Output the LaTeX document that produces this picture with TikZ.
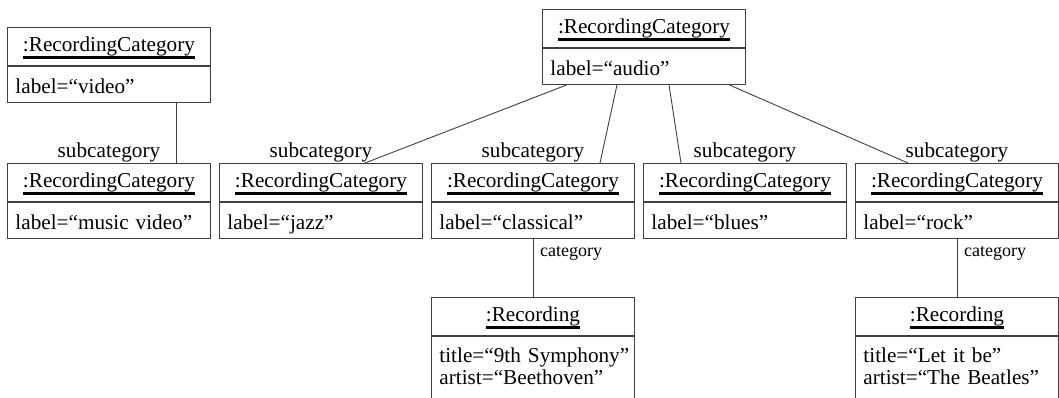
\documentclass[tikz,border=0pt]{standalone}
\usepackage{fontspec}
\setmainfont{Liberation Serif}
\usetikzlibrary{positioning}
\newlength{\objnamewd}
\newcommand{\objname}[1]{\settowidth{\objnamewd}{#1}\rlap{\rule[-8pt]{\objnamewd}{3pt}}#1}

\begin{document}
\begin{tikzpicture}[
    x=1pt, y=-1pt,
    objhead/.style={rectangle, draw=black!75, line width=0.9pt, minimum width=203pt,
                    inner sep=0pt, text height=24pt, text depth=14pt,
                    font=\fontsize{21.2}{23.5}\selectfont},
    objattr/.style={rectangle, draw=black!75, line width=0.9pt, minimum width=203pt,
                    inner xsep=8pt, inner ysep=0pt, text width=187pt, align=left,
                    text height=27pt, text depth=9pt, font=\fontsize{21.2}{23.5}\selectfont},
    recattr/.style={objattr, text height=26pt, text depth=50pt, font=\fontsize{21.2}{22}\selectfont},
    link/.style={draw=black!75, line width=0.9pt},
    role/.style={inner sep=0pt, font=\fontsize{21.2}{23.5}\selectfont},
    endrole/.style={inner sep=0pt, font=\fontsize{18}{20}\selectfont}
]
\useasboundingbox (0,0) rectangle (1059,397);
\clip (0,0) rectangle (1059,397);

% top level categories
\node[objhead, anchor=north west] (videohead) at (7,27) {\objname{:RecordingCategory}};
\node[objattr, below=0pt of videohead] (videoattr) {label=“video”};

\node[objhead, anchor=north west] (audiohead) at (542,9) {\objname{:RecordingCategory}};
\node[objattr, below=0pt of audiohead] (audioattr) {label=“audio”};

% subcategories
\node[objhead, anchor=north west] (mvhead) at (7,163) {\objname{:RecordingCategory}};
\node[objattr, below=0pt of mvhead] (mvattr) {label=“music video”};

\node[objhead, anchor=north west] (jazzhead) at (219,163) {\objname{:RecordingCategory}};
\node[objattr, below=0pt of jazzhead] (jazzattr) {label=“jazz”};

\node[objhead, anchor=north west] (classhead) at (431,163) {\objname{:RecordingCategory}};
\node[objattr, below=0pt of classhead] (classattr) {label=“classical”};

\node[objhead, anchor=north west] (blueshead) at (643,163) {\objname{:RecordingCategory}};
\node[objattr, below=0pt of blueshead] (bluesattr) {label=“blues”};

\node[objhead, anchor=north west] (rockhead) at (855,163) {\objname{:RecordingCategory}};
\node[objattr, below=0pt of rockhead] (rockattr) {label=“rock”};

% recordings
\node[objhead, anchor=north west] (beethead) at (431,297) {\objname{:Recording}};
\node[recattr, below=0pt of beethead] (beetattr)
    {\mbox{title=“9th Symphony”}\\\mbox{artist=“Beethoven”}};

\node[objhead, anchor=north west] (beatlhead) at (855,297) {\objname{:Recording}};
\node[recattr, below=0pt of beatlhead] (beatlattr)
    {\mbox{title=“Let it be”}\\\mbox{artist=“The Beatles”}};

% links
\draw[link] ([xshift=169pt]videoattr.south west) -- ([xshift=169pt]mvhead.north west);
\draw[link] ([xshift=25pt]audioattr.south west) -- ([xshift=146pt]jazzhead.north west);
\draw[link] ([xshift=75pt]audioattr.south west) -- ([xshift=169pt]classhead.north west);
\draw[link] ([xshift=127pt]audioattr.south west) -- ([xshift=38pt]blueshead.north west);
\draw[link] ([xshift=187pt]audioattr.south west) -- ([xshift=53pt]rockhead.north west);
\draw[link] (classattr.south) -- (beethead.north);
\draw[link] (rockattr.south) -- (beatlhead.north);

% role names
\node[role, anchor=base] (mvrole) at ([yshift=6pt]mvhead.north) {subcategory};
\node[role, anchor=base] (jazzrole) at ([yshift=6pt]jazzhead.north) {subcategory};
\node[role, anchor=base] (classrole) at ([yshift=6pt]classhead.north) {subcategory};
\node[role, anchor=base] (bluesrole) at ([yshift=6pt]blueshead.north) {subcategory};
\node[role, anchor=base] (rockrole) at ([yshift=6pt]rockhead.north) {subcategory};
\node[endrole, anchor=base west] (beetrole) at ([xshift=7pt,yshift=-18pt]classattr.south) {category};
\node[endrole, anchor=base west] (beatlrole) at ([xshift=7pt,yshift=-18pt]rockattr.south) {category};

\end{tikzpicture}
\end{document}
